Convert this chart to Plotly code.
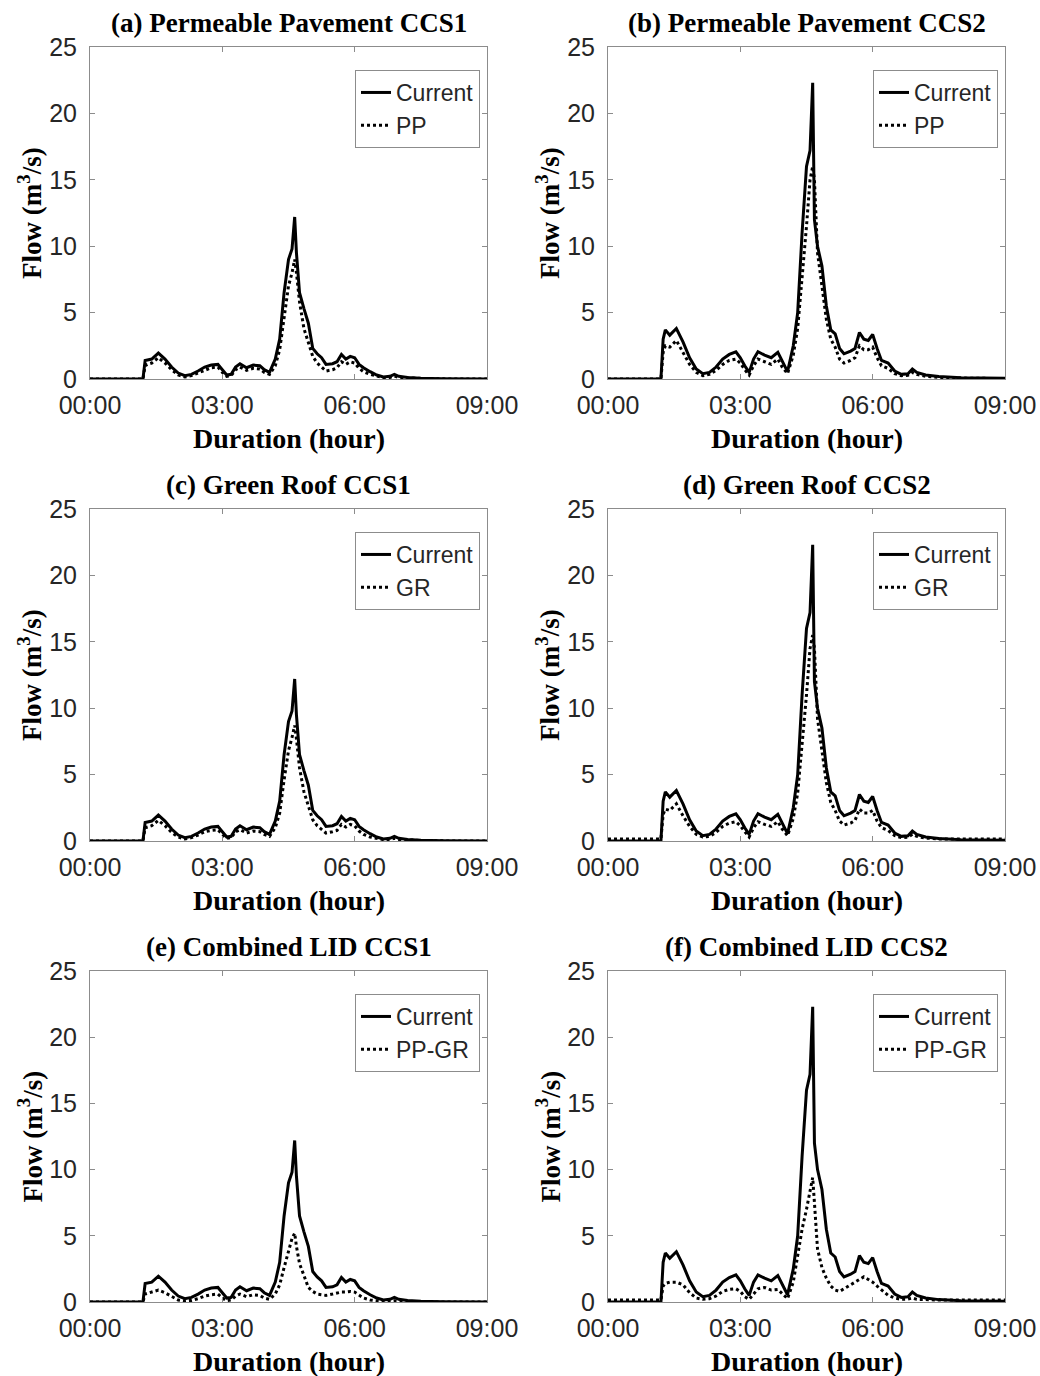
import plotly.graph_objects as go

# ---------------- data ----------------
hours = [0, 1.2, 1.25, 1.3, 1.4, 1.55, 1.7, 1.85, 2.0, 2.15, 2.3, 2.45, 2.6, 2.75, 2.9, 3.0,
         3.1, 3.2, 3.3, 3.4, 3.55, 3.7, 3.85, 3.95, 4.07, 4.2, 4.3, 4.4, 4.5, 4.58, 4.64, 4.68,
         4.75, 4.85, 4.95, 5.05, 5.15, 5.25, 5.35, 5.5, 5.6, 5.7, 5.8, 5.9, 6.0, 6.1, 6.2, 6.35,
         6.5, 6.65, 6.8, 6.9, 7.0, 7.2, 7.5, 8.0, 8.5, 9.0]

current_ccs1 = [0, 0, 1.4, 1.45, 1.5, 1.95, 1.5, 0.9, 0.45, 0.25, 0.35, 0.6, 0.9, 1.05, 1.1, 0.7,
                0.3, 0.35, 0.9, 1.15, 0.85, 1.05, 1.0, 0.7, 0.5, 1.5, 3.0, 6.5, 9.0, 9.8, 12.2, 9.5,
                6.5, 5.3, 4.2, 2.3, 1.9, 1.6, 1.1, 1.15, 1.3, 1.85, 1.5, 1.7, 1.6, 1.1, 0.85, 0.55,
                0.3, 0.15, 0.2, 0.35, 0.2, 0.12, 0.06, 0.02, 0.0, 0.0]
pp_ccs1 = [0, 0, 1.0, 1.1, 1.2, 1.6, 1.2, 0.7, 0.3, 0.15, 0.25, 0.45, 0.7, 0.85, 0.9, 0.5,
           0.2, 0.25, 0.7, 0.9, 0.65, 0.8, 0.75, 0.5, 0.35, 1.0, 2.2, 4.8, 7.0, 8.0, 9.0, 8.0,
           5.8, 3.8, 2.8, 1.7, 1.2, 0.9, 0.6, 0.7, 0.85, 1.3, 1.1, 1.3, 1.2, 0.8, 0.55, 0.35,
           0.2, 0.1, 0.12, 0.22, 0.12, 0.08, 0.04, 0.01, 0.0, 0.0]
gr_ccs1 = [0, 0, 1.0, 1.05, 1.15, 1.55, 1.15, 0.65, 0.3, 0.15, 0.25, 0.45, 0.7, 0.8, 0.85, 0.5,
           0.2, 0.25, 0.7, 0.85, 0.6, 0.75, 0.7, 0.5, 0.35, 1.0, 2.1, 4.6, 6.8, 7.8, 8.7, 7.7,
           5.5, 3.7, 2.7, 1.6, 1.15, 0.85, 0.6, 0.7, 0.8, 1.25, 1.05, 1.25, 1.15, 0.75, 0.5, 0.3,
           0.18, 0.1, 0.12, 0.2, 0.12, 0.08, 0.04, 0.01, 0.0, 0.0]
ppgr_ccs1 = [0, 0, 0.6, 0.65, 0.7, 0.9, 0.7, 0.4, 0.15, 0.08, 0.12, 0.25, 0.45, 0.55, 0.6, 0.3,
             0.1, 0.15, 0.45, 0.6, 0.4, 0.55, 0.5, 0.3, 0.2, 0.6, 1.3, 2.6, 3.8, 4.8, 5.2, 4.2,
             2.9, 2.0, 1.1, 0.8, 0.6, 0.55, 0.5, 0.6, 0.7, 0.75, 0.75, 0.8, 0.75, 0.5, 0.3, 0.15,
             0.08, 0.04, 0.05, 0.1, 0.05, 0.03, 0.01, 0.0, 0.0, 0.0]

current_ccs2 = [0, 0, 3.0, 3.7, 3.3, 3.8, 2.8, 1.6, 0.75, 0.4, 0.5, 0.9, 1.5, 1.85, 2.05, 1.6,
                1.0, 0.5, 1.5, 2.05, 1.8, 1.6, 2.0, 1.3, 0.55, 2.5, 5.0, 11.0, 16.0, 17.2, 22.3, 12.0,
                10.0, 8.5, 5.5, 3.7, 3.4, 2.3, 1.9, 2.1, 2.3, 3.5, 3.0, 2.9, 3.35, 2.3, 1.4, 1.2,
                0.6, 0.35, 0.4, 0.75, 0.5, 0.3, 0.18, 0.1, 0.06, 0.05]
pp_ccs2 = [0, 0, 2.0, 2.5, 2.4, 2.9, 2.0, 1.1, 0.5, 0.25, 0.35, 0.65, 1.1, 1.4, 1.5, 1.2,
           0.7, 0.3, 1.0, 1.5, 1.3, 1.1, 1.5, 0.9, 0.4, 1.8, 3.8, 7.5, 11.5, 15.0, 16.0, 15.0,
           9.5, 7.0, 4.5, 3.0, 2.4, 1.5, 1.2, 1.4, 1.6, 2.5, 2.2, 2.2, 2.4, 1.6, 1.0, 0.8,
           0.4, 0.25, 0.28, 0.5, 0.35, 0.2, 0.12, 0.07, 0.04, 0.03]
gr_ccs2 = [0.15, 0.15, 2.0, 2.4, 2.3, 2.8, 1.9, 1.1, 0.5, 0.3, 0.35, 0.65, 1.1, 1.35, 1.45, 1.15,
           0.7, 0.3, 1.0, 1.45, 1.25, 1.1, 1.45, 0.9, 0.4, 1.7, 3.6, 7.2, 11.0, 14.5, 15.5, 14.5,
           9.2, 6.8, 4.4, 2.9, 2.3, 1.5, 1.2, 1.35, 1.55, 2.4, 2.1, 2.1, 2.3, 1.5, 1.0, 0.8,
           0.4, 0.25, 0.28, 0.5, 0.35, 0.22, 0.16, 0.15, 0.15, 0.15]
ppgr_ccs2 = [0.15, 0.15, 1.2, 1.4, 1.5, 1.5, 1.3, 0.7, 0.3, 0.2, 0.25, 0.45, 0.8, 0.95, 1.0, 0.8,
             0.4, 0.2, 0.6, 1.0, 1.1, 0.9, 0.95, 0.6, 0.25, 1.5, 3.5, 5.5, 7.0, 8.5, 9.4, 7.5,
             4.0, 2.6, 1.8, 1.2, 0.9, 0.8, 1.0, 1.3, 1.5, 1.7, 1.9, 1.7, 1.5, 1.2, 0.9, 0.5,
             0.3, 0.2, 0.22, 0.3, 0.2, 0.16, 0.15, 0.15, 0.15, 0.15]

panel_titles = ["(a) Permeable Pavement CCS1", "(b) Permeable Pavement CCS2",
                "(c) Green Roof CCS1", "(d) Green Roof CCS2",
                "(e) Combined LID CCS1", "(f) Combined LID CCS2"]
scenario_names = ["PP", "PP", "GR", "GR", "PP-GR", "PP-GR"]
current_series = [current_ccs1, current_ccs2, current_ccs1, current_ccs2, current_ccs1, current_ccs2]
lid_series = [pp_ccs1, pp_ccs2, gr_ccs1, gr_ccs2, ppgr_ccs1, ppgr_ccs2]

x_tickvals = [0, 3, 6, 9]
x_ticktext = ["00:00", "03:00", "06:00", "09:00"]
y_tickvals = [0, 5, 10, 15, 20, 25]

# ---------------- layout geometry (pixels) ----------------
W, H = 1040, 1376
col_px = [(90, 487), (608, 1005)]
row_px = [(47, 379), (509, 841), (971, 1302)]

TXT = "#262626"
FRAME = "#8c8c8c"
SANS = "Liberation Sans, Arial"
SERIF = "Liberation Serif, Times New Roman"

fig = go.Figure()
layout_updates = {}
annotations = []

for i in range(6):
    r, c = divmod(i, 2)
    n = i + 1
    xa = "x" if n == 1 else f"x{n}"
    ya = "y" if n == 1 else f"y{n}"
    lg = "legend" if n == 1 else f"legend{n}"
    fig.add_trace(go.Scatter(x=hours, y=current_series[i], mode="lines", name="Current",
                             line=dict(color="black", width=3), xaxis=xa, yaxis=ya, legend=lg))
    fig.add_trace(go.Scatter(x=hours, y=lid_series[i], mode="lines", name=scenario_names[i],
                             line=dict(color="black", width=3, dash="dot"), xaxis=xa, yaxis=ya, legend=lg))

    x0, x1 = col_px[c]
    y0, y1 = row_px[r]
    xdom = [x0 / W, x1 / W]
    ydom = [1 - y1 / H, 1 - y0 / H]
    xkey = "xaxis" if n == 1 else f"xaxis{n}"
    ykey = "yaxis" if n == 1 else f"yaxis{n}"
    layout_updates[xkey] = dict(domain=xdom, range=[0, 9], anchor=ya, tickvals=x_tickvals,
                                ticktext=x_ticktext, ticks="inside", ticklen=5, tickcolor=FRAME,
                                showline=True, linecolor=FRAME, linewidth=1, mirror="ticks",
                                showgrid=False, zeroline=False, ticklabelstandoff=4,
                                ticklabeloverflow="allow",
                                tickfont=dict(family=SANS, size=25, color=TXT))
    layout_updates[ykey] = dict(domain=ydom, range=[0, 25], anchor=xa, tickvals=y_tickvals,
                                ticks="inside", ticklen=5, tickcolor=FRAME,
                                showline=True, linecolor=FRAME, linewidth=1, mirror="ticks",
                                showgrid=False, zeroline=False, ticklabelstandoff=7,
                                tickfont=dict(family=SANS, size=25, color=TXT))
    layout_updates[lg] = dict(x=(x1 - 7) / W, y=1 - (y0 + 23) / H, xanchor="right", yanchor="top",
                              xref="paper", yref="paper", bgcolor="white", bordercolor=FRAME,
                              borderwidth=1, font=dict(family=SANS, size=23, color=TXT),
                              tracegroupgap=0)

    cx = (x0 + x1) / 2 / W
    annotations.append(dict(text=f"<b>{panel_titles[i]}</b>", x=cx, y=1 - (y0 - 24) / H,
                            xref="paper", yref="paper", showarrow=False, xanchor="center", yanchor="middle",
                            font=dict(family=SERIF, size=27, color="black")))
    annotations.append(dict(text="<b>Duration (hour)</b>", x=cx, y=1 - (y1 + 59) / H,
                            xref="paper", yref="paper", showarrow=False, xanchor="center", yanchor="middle",
                            font=dict(family=SERIF, size=28, color="black")))
    annotations.append(dict(text="<b>Flow (m<sup>3</sup>/s)</b>", x=(x0 - 60) / W, y=1 - (y0 + y1) / 2 / H,
                            xref="paper", yref="paper", showarrow=False, xanchor="center", yanchor="middle",
                            textangle=-90,
                            font=dict(family=SERIF, size=27, color="black")))

fig.update_layout(width=W, height=H, autosize=False,
                  margin=dict(l=0, r=0, t=0, b=0, autoexpand=False),
                  paper_bgcolor="white", plot_bgcolor="white", showlegend=True,
                  annotations=annotations, **layout_updates)

# remove the default 8px page margin so the 1040x1376 figure fills the window exactly
fig.write_html("out.html", config={"displayModeBar": False},
               post_script="document.body.style.margin='0';document.body.style.overflow='hidden';")
